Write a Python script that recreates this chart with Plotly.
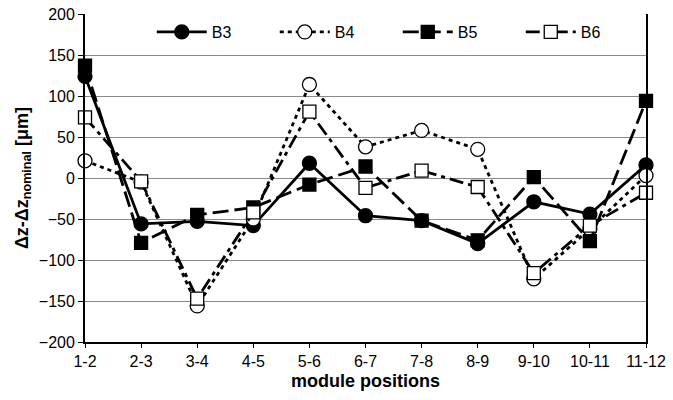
import plotly.graph_objects as go

categories = ['1-2', '2-3', '3-4', '4-5', '5-6', '6-7', '7-8', '8-9', '9-10', '10-11', '11-12']
b3 = [124, -56, -53, -58, 18, -46, -52, -80, -29, -44, 16]
b4 = [21, -5, -156, -50, 114, 38, 58, 35, -123, -62, 3]
b5 = [137, -79, -45, -36, -8, 14, -52, -76, 1, -77, 94]
b6 = [74, -4, -147, -42, 81, -12, 9, -11, -116, -58, -18]

y_ticks = [-200, -150, -100, -50, 0, 50, 100, 150, 200]

FONT = "Liberation Sans, Arial, sans-serif"

fig = go.Figure()
series = [
    ("B3", b3, "solid", "circle", "black"),
    ("B4", b4, "4px,4px", "circle", "white"),
    ("B5", b5, "16px,6px", "square", "black"),
    ("B6", b6, "14px,5px,4px,5px", "square", "white"),
]
for name, vals, dash, sym, fill in series:
    fig.add_trace(go.Scatter(
        x=categories, y=vals, name=name, mode="lines+markers", cliponaxis=False,
        line=dict(color="black", width=2.8, dash=dash),
        marker=dict(symbol=sym, size=14 if sym == "circle" else 13,
                    color=fill, line=dict(color="black", width=1.3)),
    ))

fig.update_layout(
    width=673, height=400,
    margin=dict(l=85, r=27, t=14, b=58, autoexpand=False),
    paper_bgcolor="white", plot_bgcolor="white",
    font=dict(family=FONT, size=16, color="black"),
    showlegend=True,
    legend=dict(orientation="h", x=0.119, y=0.945, xanchor="left", yanchor="middle",
                bgcolor="rgba(255,255,255,0)", font=dict(size=16), entrywidth=58,
                itemwidth=50, tracegroupgap=0),
    xaxis=dict(
        type="category", range=[0, 10], showline=True, linecolor="black", linewidth=1.5,
        mirror=False, ticks="outside", ticklen=4, tickcolor="black", showgrid=False,
        tickfont=dict(size=16), automargin=False,
        title=dict(text="module positions", font=dict(size=18, family=FONT, weight="bold"),
                   standoff=5),
    ),
    yaxis=dict(
        range=[-200, 200], tickvals=y_ticks, showline=True, linecolor="black", linewidth=1.8,
        mirror=True, ticks="outside", ticklen=5, tickcolor="black", showgrid=True,
        gridcolor="#8a8a8a", gridwidth=1, zeroline=False, tickfont=dict(size=16),
        automargin=False,
        title=dict(text="Δz-Δz<sub>nominal</sub> [μm]", font=dict(size=18, family=FONT, weight="bold"),
                   standoff=6),
    ),
)

fig.write_html("out.html", config={"displayModeBar": False},
               post_script="document.body.style.margin='0';")
